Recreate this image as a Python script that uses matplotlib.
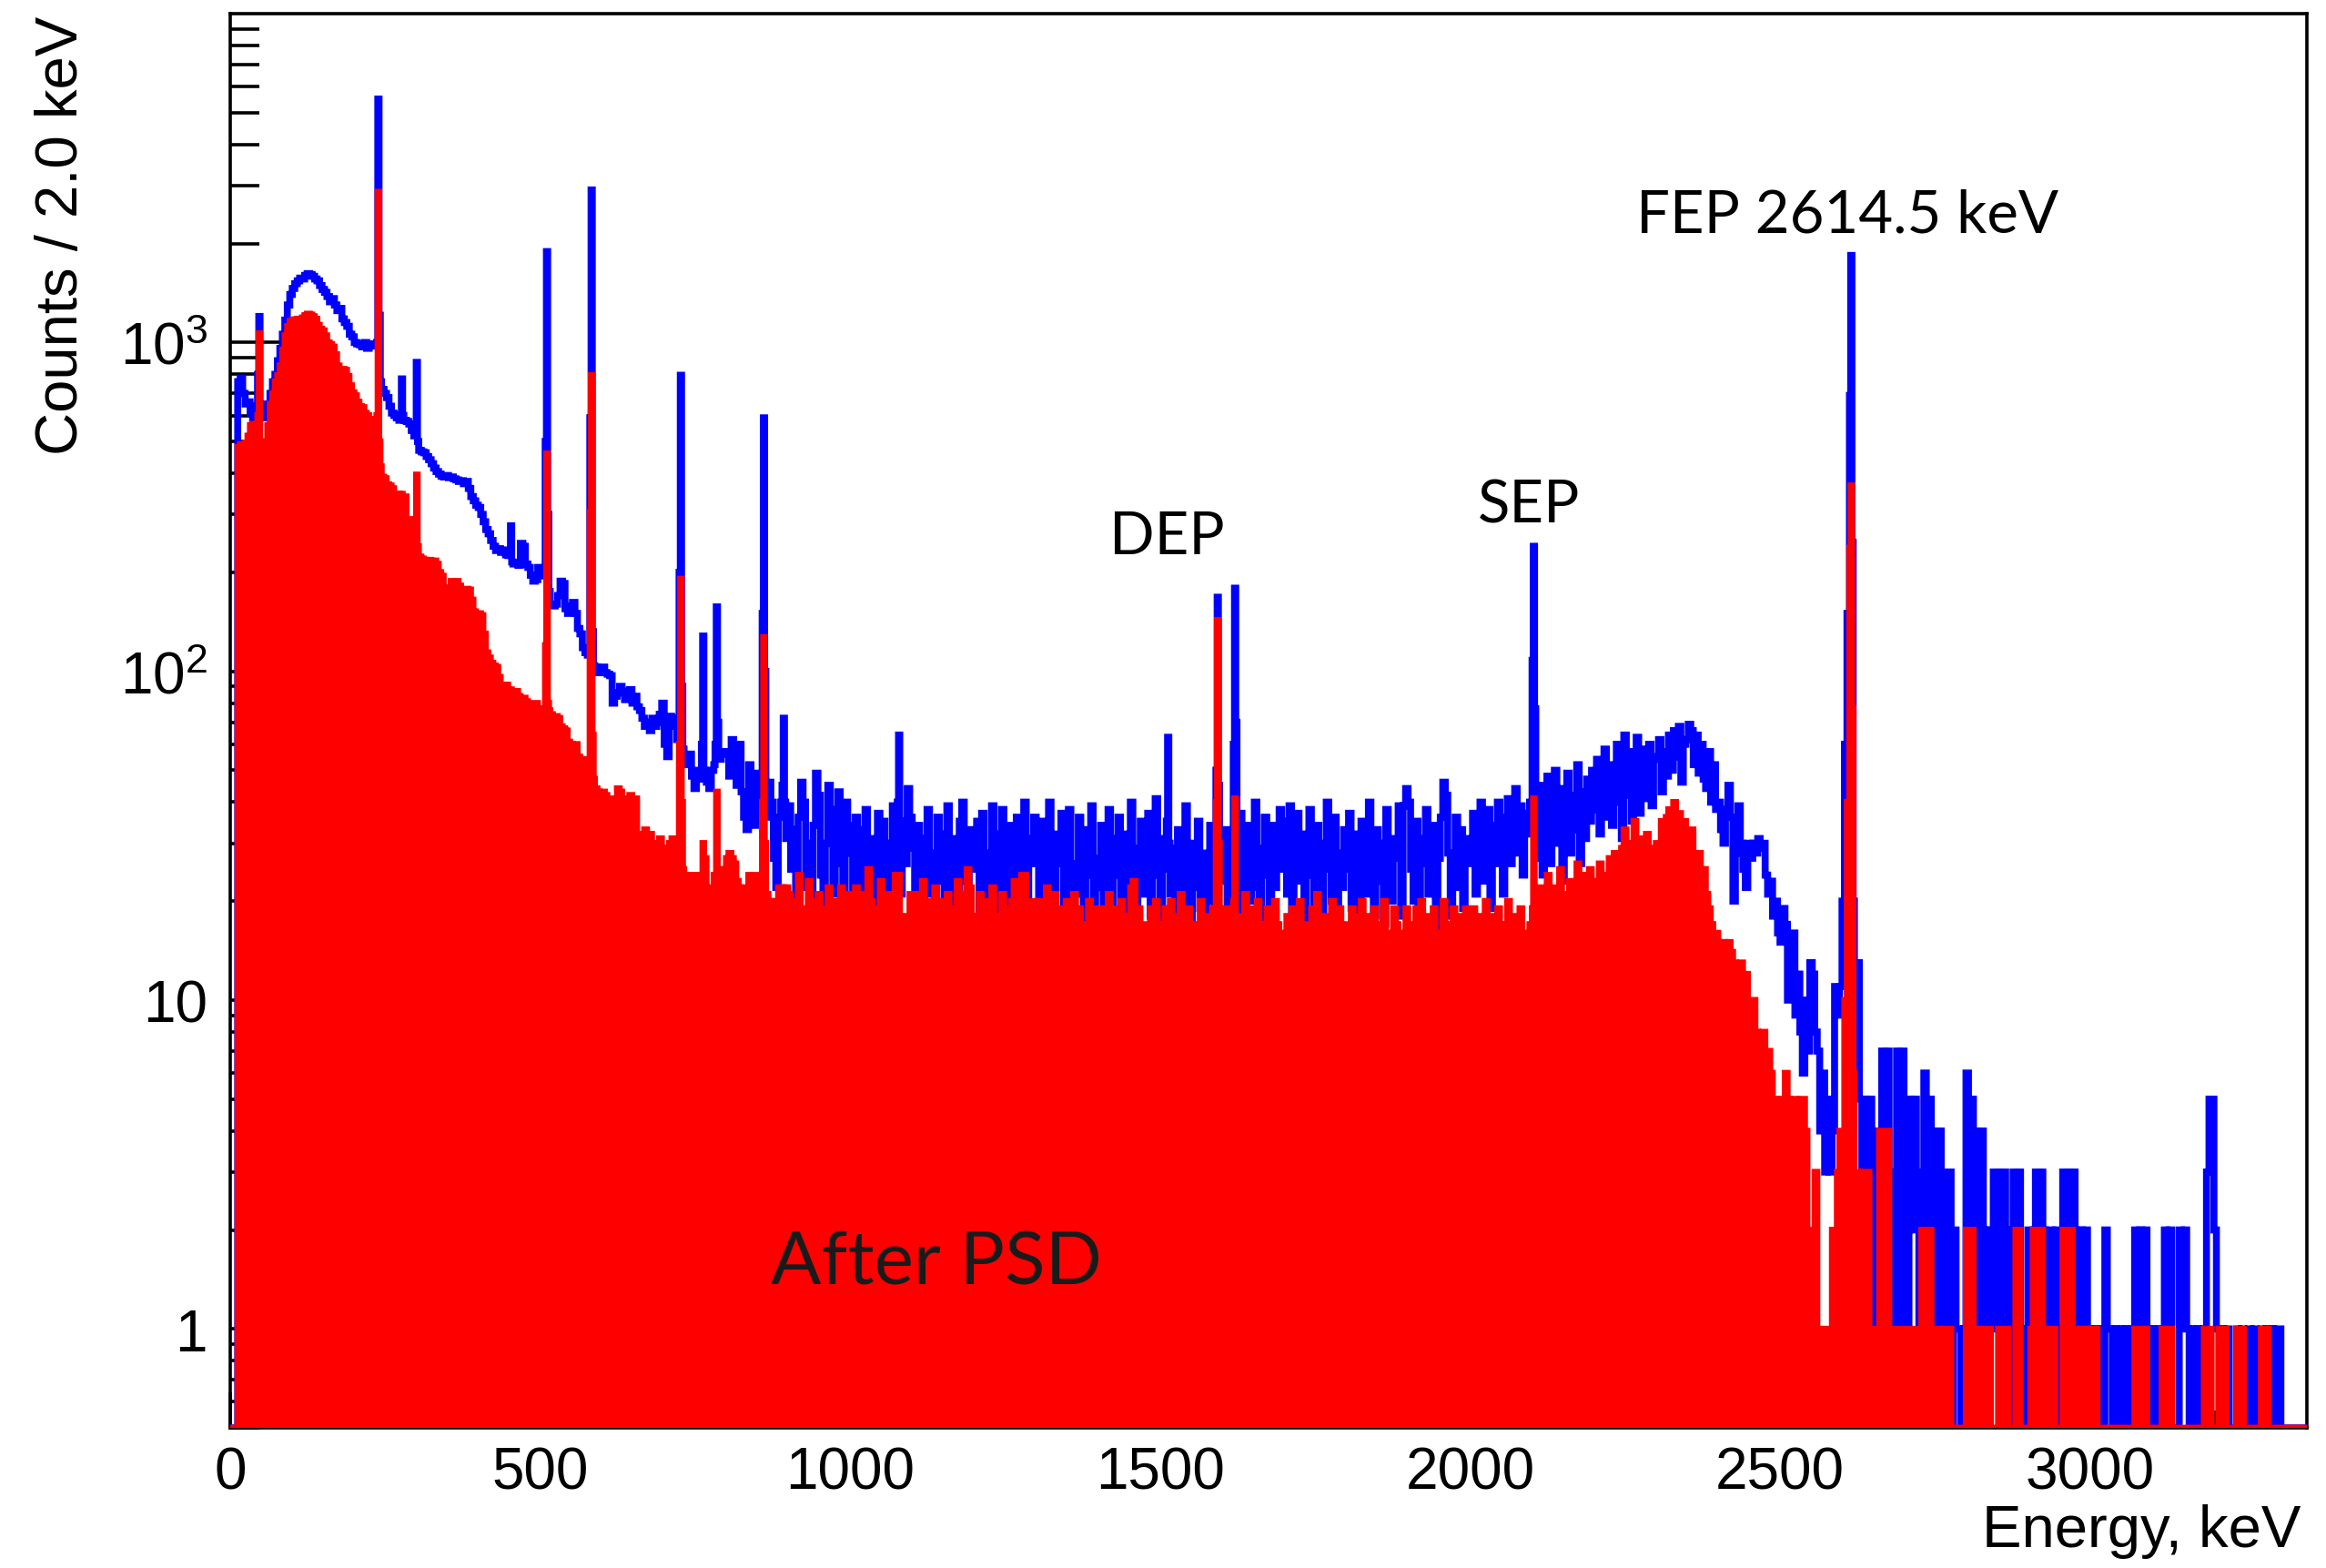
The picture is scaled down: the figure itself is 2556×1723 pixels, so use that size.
import numpy as np
import matplotlib.pyplot as plt
from matplotlib.ticker import FixedLocator, LogLocator, MultipleLocator, NullFormatter

plt.rcParams['font.family'] = 'Liberation Sans'
plt.rcParams['mathtext.fontset'] = 'custom'
plt.rcParams['mathtext.rm'] = 'Liberation Sans'

BIN_KEV = 2.0      # histogram bin width
BLOCK_KEV = 4.0    # continuum counts are listed per 4 keV
Y_MIN, Y_MAX = 0.5, 1.0e4
X_MAX = 3350

# continuum counts per bin, one row per 100 keV (before PSD)
BLUE_COUNTS = [
    0, 0, 0, 760, 780, 700, 650, 660, 610, 560, 640, 620, 610, 590, 640, 650, 700, 760, 800, 880, 960, 1060, 1170, 1300, 1400,
    1460, 1510, 1540, 1570, 1560, 1600, 1620, 1610, 1590, 1560, 1540, 1490, 1450, 1420, 1380, 1330, 1360, 1300, 1250, 1270, 1180, 1150, 1120, 1060, 1040,
    1000, 990, 985, 970, 1000, 960, 990, 975, 985, 990, 760, 720, 700, 680, 640, 610, 600, 590, 580, 585, 580, 575, 565, 540, 520,
    480, 470, 465, 462, 450, 440, 428, 415, 405, 398, 392, 390, 394, 388, 390, 385, 382, 378, 380, 372, 378, 360, 340, 330, 320,
    315, 300, 285, 270, 262, 250, 240, 233, 236, 230, 234, 226, 225, 215, 212, 214, 210, 245, 240, 212, 207, 196, 188, 190, 207,
    200, 195, 190, 175, 160, 158, 160, 170, 188, 185, 155, 150, 158, 162, 150, 135, 130, 118, 114, 112, 110, 104, 103, 99, 100,
    103, 99, 98, 97, 80, 84, 86, 90, 87, 82, 86, 88, 80, 84, 78, 76, 72, 68, 70, 66, 72, 68, 70, 74, 80,
    60, 55, 73, 72, 68, 62, 60, 58, 55, 52, 56, 48, 44, 50, 47, 50, 48, 46, 44, 50, 52, 55, 54, 57, 56,
    57, 48, 62, 52, 45, 60, 43, 36, 33, 52, 40, 34, 49, 38, 47, 42, 36, 46, 40, 27, 22, 36, 40, 44, 31,
    39, 25, 33, 18, 36, 46, 40, 22, 30, 17, 34, 49, 42, 24, 19, 30, 45, 38, 21, 26, 43, 36, 18, 40, 28,
    34, 20, 36, 27, 17, 33, 38, 23, 31, 19, 29, 37, 22, 35, 27, 16, 30, 39, 24, 28, 21, 34, 26, 44, 36,
    29, 18, 34, 25, 15, 31, 38, 21, 28, 17, 36, 23, 32, 19, 39, 26, 16, 31, 20, 35, 40, 23, 17, 33, 27,
    25, 35, 18, 37, 28, 15, 27, 39, 21, 32, 17, 38, 24, 19, 34, 27, 14, 36, 29, 22, 40, 18, 31, 26, 36,
    28, 20, 35, 16, 27, 40, 23, 15, 32, 26, 37, 18, 31, 38, 17, 26, 21, 36, 28, 16, 33, 24, 39, 19, 27,
    22, 34, 16, 27, 38, 17, 31, 24, 36, 19, 32, 15, 26, 40, 23, 14, 29, 35, 21, 25, 37, 18, 27, 41, 24,
    17, 31, 25, 37, 21, 29, 14, 33, 24, 18, 39, 23, 16, 30, 22, 35, 19, 28, 14, 25, 34, 20, 16, 26, 31,
    23, 33, 18, 30, 25, 24, 28, 37, 16, 27, 34, 20, 31, 40, 22, 17, 29, 36, 24, 19, 34, 22, 30, 38, 25,
    35, 21, 39, 17, 27, 37, 23, 32, 15, 26, 38, 24, 18, 34, 29, 16, 30, 40, 25, 20, 36, 17, 28, 22, 33,
    25, 37, 19, 32, 24, 15, 35, 28, 21, 40, 25, 18, 33, 23, 30, 17, 38, 26, 20, 31, 27, 39, 18, 39, 44,
    40, 25, 20, 35, 17, 31, 26, 38, 21, 29, 34, 16, 27, 36, 46, 42, 28, 18, 27, 36, 22, 33, 19, 31, 26,
    27, 37, 21, 33, 40, 23, 29, 38, 19, 34, 26, 40, 29, 21, 36, 41, 26, 38, 44, 28, 39, 24, 37, 32, 40,
    40, 36, 27, 45, 24, 39, 48, 26, 41, 50, 30, 44, 23, 37, 49, 28, 42, 33, 52, 26, 43, 31, 47, 35, 50,
    38, 54, 32, 47, 58, 36, 52, 34, 48, 60, 40, 31, 64, 42, 57, 35, 49, 63, 37, 52, 58, 41, 60, 39, 55,
    54, 62, 43, 57, 48, 64, 50, 66, 55, 68, 46, 60, 62, 69, 66, 52, 64, 49, 60, 47, 44, 57, 40, 52, 38,
    40, 33, 30, 38, 45, 36, 20, 28, 39, 30, 25, 22, 30, 27, 30, 28, 31, 29, 30, 24, 21, 23, 18, 20, 16,
    15, 19, 17, 10, 14, 16, 9, 12, 8, 6, 10, 7, 13, 12, 8, 7, 4, 6, 3, 5, 3, 4, 11, 9, 11,
    20, 60, 150, 690, 20, 13, 13, 5, 1, 5, 3, 5, 4, 1, 4, 0, 7, 2, 7, 3, 1, 3, 7, 1, 7,
    4, 1, 5, 2, 5, 3, 0, 2, 6, 1, 5, 2, 4, 0, 4, 3, 1, 2, 3, 0, 2, 1, 1, 0, 1,
    6, 1, 5, 2, 4, 1, 4, 2, 0, 2, 1, 3, 1, 3, 0, 3, 2, 1, 0, 3, 1, 3, 1, 0, 1,
    2, 0, 2, 3, 1, 3, 2, 1, 0, 2, 1, 2, 1, 0, 3, 1, 3, 2, 3, 2, 0, 2, 1, 2, 1,
    1, 0, 1, 0, 1, 0, 2, 1, 1, 0, 1, 0, 1, 0, 1, 0, 1, 0, 2, 0, 2, 1, 2, 1, 0,
    1, 0, 1, 0, 1, 2, 0, 2, 0, 0, 0, 2, 1, 2, 1, 0, 1, 0, 1, 0, 1, 0, 3, 5, 5,
    2, 1, 0, 1, 0, 1, 0, 0, 0, 1, 0, 1, 0, 0, 1, 0, 1, 0, 0, 1, 0, 1, 0, 1, 0,
    1, 1, 0, 0, 0, 0, 0, 0, 0, 0, 0, 0, 0,
]

# after PSD
RED_COUNTS = [
    0, 0, 0, 480, 490, 485, 495, 520, 560, 565, 540, 500, 490, 485, 480, 560, 650, 700, 760, 795, 850, 950, 1050, 1120, 1160,
    1170, 1175, 1180, 1170, 1190, 1210, 1222, 1215, 1200, 1180, 1130, 1100, 1087, 1050, 1000, 988, 970, 920, 850, 830, 830, 825, 790, 740, 705,
    690, 660, 640, 635, 610, 600, 585, 578, 580, 575, 420, 390, 386, 370, 367, 360, 321, 330, 346, 346, 340, 290, 277, 285, 280,
    240, 223, 220, 218, 217, 218, 216, 217, 212, 200, 195, 180, 170, 178, 188, 186, 188, 182, 177, 176, 178, 177, 165, 152, 150,
    150, 148, 130, 114, 110, 106, 104, 103, 96, 91, 90, 91, 88, 87, 86, 87, 84, 82, 83, 81, 74, 76, 80, 80, 77,
    74, 72, 73, 76, 74, 73, 73, 72, 68, 67, 66, 61, 60, 59, 60, 55, 54, 53, 54, 52, 50, 47, 44, 43, 42,
    43, 42, 40, 41, 39, 40, 44, 43, 39, 38, 41, 42, 40, 41, 28, 30, 32, 33, 31, 32, 26, 27, 30, 31, 29,
    26, 28, 30, 31, 30, 29, 27, 25, 24, 23, 24, 23, 24, 23, 24, 26, 27, 21, 20, 22, 24, 25, 24, 24, 25,
    27, 28, 27, 26, 23, 22, 21, 22, 21, 24, 23, 24, 23, 22, 23, 24, 21, 20, 19, 19, 20, 22, 22, 23, 22,
    21, 13, 20, 17, 24, 15, 19, 14, 23, 20, 12, 18, 21, 16, 13, 19, 22, 15, 20, 17, 14, 22, 16, 19, 21,
    19, 13, 22, 16, 12, 21, 17, 25, 20, 14, 11, 19, 23, 15, 18, 21, 13, 19, 24, 20, 16, 12, 18, 15, 21,
    16, 21, 13, 18, 23, 14, 20, 12, 17, 22, 19, 13, 20, 15, 21, 17, 11, 19, 23, 16, 14, 21, 25, 22, 15,
    18, 13, 21, 16, 12, 20, 15, 22, 18, 13, 17, 21, 12, 19, 15, 20, 23, 16, 13, 24, 24, 17, 14, 20, 16,
    15, 20, 13, 18, 22, 12, 17, 21, 15, 11, 19, 14, 20, 16, 12, 21, 15, 19, 13, 11, 17, 20, 15, 12, 19,
    14, 19, 12, 17, 21, 15, 11, 19, 14, 20, 16, 12, 18, 22, 23, 15, 19, 12, 17, 14, 11, 19, 15, 20, 13,
    17, 12, 19, 15, 20, 13, 11, 18, 21, 15, 12, 19, 14, 17, 11, 16, 20, 14, 12, 18, 14, 19, 15, 20, 17,
    15, 19, 12, 17, 14, 20, 16, 11, 18, 21, 13, 19, 12, 16, 20, 11, 17, 14, 19, 15, 12, 20, 17, 13, 16,
    14, 18, 11, 19, 15, 12, 20, 14, 17, 10, 16, 19, 13, 21, 15, 13, 18, 11, 16, 20, 14, 12, 19, 15, 17,
    16, 12, 19, 14, 18, 11, 20, 15, 13, 18, 14, 19, 16, 11, 17, 20, 14, 12, 16, 19, 17, 13, 11, 16, 19,
    17, 13, 12, 19, 15, 20, 14, 11, 18, 15, 19, 12, 16, 14, 20, 17, 12, 16, 19, 13, 18, 11, 16, 19, 14,
    16, 19, 13, 18, 12, 16, 20, 14, 18, 15, 12, 19, 16, 13, 17, 20, 15, 12, 18, 14, 19, 16, 14, 12, 17,
    17, 16, 19, 22, 15, 20, 24, 17, 22, 14, 20, 25, 17, 21, 15, 23, 18, 22, 26, 17, 21, 24, 18, 25, 21,
    19, 23, 26, 20, 17, 24, 27, 21, 28, 24, 19, 29, 33, 24, 30, 22, 35, 27, 24, 31, 23, 32, 26, 24, 29,
    30, 27, 35, 28, 36, 38, 30, 40, 33, 37, 29, 35, 31, 26, 33, 25, 23, 28, 20, 25, 21, 19, 17, 14, 16,
    15, 14, 15, 14, 15, 14, 13, 12, 12, 13, 11, 12, 9, 9, 10, 8, 7, 7, 8, 7, 7, 6, 5, 5, 4,
    5, 5, 6, 5, 4, 4, 5, 4, 5, 5, 4, 2, 2, 2, 3, 1, 1, 1, 1, 1, 1, 2, 2, 3, 4,
    4, 10, 40, 237, 6, 3, 3, 2, 3, 3, 3, 1, 1, 1, 1, 4, 4, 4, 4, 0, 0, 1, 1, 1, 1,
    1, 1, 1, 1, 1, 1, 1, 2, 2, 2, 2, 1, 1, 1, 1, 0, 1, 1, 1, 0, 0, 0, 0, 0, 0,
    2, 2, 2, 0, 1, 1, 1, 1, 1, 1, 0, 0, 0, 1, 1, 1, 1, 0, 0, 0, 2, 2, 0, 0, 0,
    0, 1, 2, 2, 2, 2, 1, 1, 1, 1, 1, 0, 0, 0, 2, 2, 2, 2, 1, 1, 0, 1, 1, 1, 0,
    1, 1, 1, 0, 0, 0, 0, 0, 0, 0, 0, 0, 0, 0, 0, 0, 0, 0, 1, 1, 1, 1, 1, 0, 0,
    0, 0, 0, 0, 1, 1, 1, 1, 0, 0, 0, 0, 0, 0, 0, 0, 0, 0, 0, 0, 0, 1, 1, 1, 0,
    0, 0, 1, 1, 1, 0, 0, 0, 0, 1, 1, 1, 0, 0, 0, 0, 0, 0, 0, 1, 1, 1, 0, 0, 0,
    0, 0, 0, 0, 0, 0, 0, 0, 0, 0, 0, 0, 0,
]

# gamma lines: peak bin and the bins just below / above it
PEAK_KEV = [46.5, 238.6, 277.4, 300.1, 452.8, 511.0, 583.2, 727.3, 763.1, 785.4,
            860.6, 893.4, 1078.6, 1512.7, 1592.5, 1620.7, 2103.5, 2614.5]
PEAK_BLUE = [1200, 5500, 775, 870, 277, 1890, 2910, 795, 128, 157,
             590, 72, 64, 63, 168, 179, 240, 1840]
PEAK_BLUE_LO = [800, 1000, 600, 560, 230, 500, 590, 200, 60, 60,
                150, 45, 40, 35, 50, 60, 108, 690]
PEAK_BLUE_HI = [650, 1210, 600, 500, 215, 300, 132, 90, 50, 70,
                100, 40, 35, 30, 45, 70, 77, 247]
PEAK_RED = [1065, 2870, 346, 396, 88, 459, 795, 191, 30, 43,
            127, 22, 24, 19, 143, 41, 41, 367]
PEAK_RED_LO = [600, 600, 340, 290, 87, 120, 305, 60, 24, 24,
               40, 20, 20, 17, 40, 20, 19, 237]
PEAK_RED_HI = [500, 500, 340, 240, 87, 80, 64, 40, 22, 25,
               30, 19, 18, 16, 30, 18, 18, 77]


def spectrum(counts, top, lo, hi):
    vals = np.repeat(np.asarray(counts, dtype=float), int(BLOCK_KEV / BIN_KEV))
    for e, t, l, h in zip(PEAK_KEV, top, lo, hi):
        i = int(e // BIN_KEV)
        vals[i - 1], vals[i], vals[i + 1] = l, t, h
    return vals


blue = spectrum(BLUE_COUNTS, PEAK_BLUE, PEAK_BLUE_LO, PEAK_BLUE_HI)
red = spectrum(RED_COUNTS, PEAK_RED, PEAK_RED_LO, PEAK_RED_HI)
blue_edges = np.arange(len(blue) + 1) * BIN_KEV
red_edges = np.arange(len(red) + 1) * BIN_KEV

fig = plt.figure(figsize=(25.56, 17.24), dpi=100)
ax = fig.add_axes([0.099, 0.0893, 0.8928, 0.9014])
ax.set_yscale('log')

# empty bins sit on the bottom edge, like ROOT draws them
ax.stairs(np.maximum(blue, Y_MIN), blue_edges, baseline=None,
          color='#0000ff', lw=5.5, zorder=3)
ax.stairs(np.maximum(red, Y_MIN), red_edges, baseline=Y_MIN, fill=True,
          color='#ff0000', lw=0, zorder=3.2)
ax.stairs(np.maximum(red, Y_MIN), red_edges, baseline=None,
          color='#ff0000', lw=5, zorder=3.2)

ax.set_xlim(0, X_MAX)
ax.set_ylim(Y_MIN, Y_MAX)

ax.yaxis.set_major_locator(FixedLocator([1, 10, 100, 1000]))
ax.set_yticklabels(['1', '10', r'$\mathregular{10^{2}}$', r'$\mathregular{10^{3}}$'])
ax.yaxis.set_minor_locator(LogLocator(base=10, subs=np.arange(2, 10) * 1.0, numticks=30))
ax.yaxis.set_minor_formatter(NullFormatter())
ax.xaxis.set_major_locator(MultipleLocator(500))
ax.xaxis.set_minor_locator(MultipleLocator(100))

ax.tick_params(axis='y', which='major', direction='in', length=45, width=2.6,
               labelsize=46, pad=18, right=False)
ax.tick_params(axis='y', which='minor', direction='in', length=23, width=2.6, right=False)
ax.tick_params(axis='x', which='major', direction='in', length=28, width=2.6,
               labelsize=46, pad=14, top=False)
ax.tick_params(axis='x', which='minor', direction='in', length=14, width=2.6, top=False)
for s in ax.spines.values():
    s.set_linewidth(2.6)

fig.text(0.0266, 0.9896, 'Counts / 2.0 keV', rotation=90, ha='center', va='top', fontsize=47)
fig.text(0.989, 0.0139, 'Energy, keV', ha='right', va='baseline', fontsize=47)

ax.text(2608, 2170, 'FEP 2614.5 keV', ha='center', va='baseline', fontsize=47,
        family='Lato', zorder=5)
ax.text(2095, 284, 'SEP', ha='center', va='baseline', fontsize=47, family='Lato', zorder=5)
ax.text(1511, 228, 'DEP', ha='center', va='baseline', fontsize=47, family='Lato', zorder=5)
ax.text(1139, 1.37, 'After PSD', ha='center', va='baseline', fontsize=59,
        family='Lato', color='#1a1a1a', zorder=5)

fig.savefig('out.png', dpi=100)
